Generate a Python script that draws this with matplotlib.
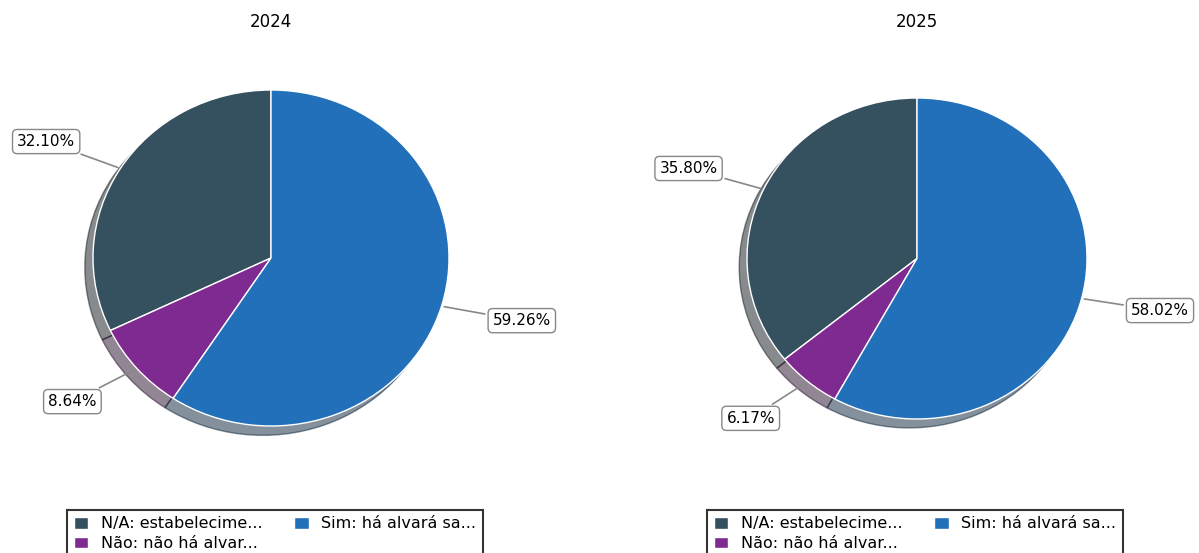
import numpy as np
import matplotlib
matplotlib.use("Agg")
import matplotlib.pyplot as plt

plt.rcParams["font.family"] = ["DejaVu Sans"]

years = ["2024", "2025"]
labels = ["N/A: estabelecime...", "Não: não há alvar...", "Sim: há alvará sa..."]
values_2024 = [32.10, 8.64, 59.26]
values_2025 = [35.80, 6.17, 58.02]
colors = ["#35505e", "#7e2a90", "#2170b9"]

W, H = 1199, 553
fig = plt.figure(figsize=(W / 100, H / 100), dpi=100)

# axes placement in pixels: (center_x, center_y_from_top, rx, ry)
geoms = [(271, 258, 178, 168), (917, 258.5, 170, 160.5)]
legend_centers = [275, 915]

for year, vals, (cx, cy, rx, ry), lcx in zip(years, [values_2024, values_2025], geoms, legend_centers):
    aw, ah = rx * 2.5, ry * 2.5
    ax = fig.add_axes([(cx - aw / 2) / W, 1 - (cy + ah / 2) / H, aw / W, ah / H])
    wedges, _ = ax.pie(vals, colors=colors, startangle=90,
                       shadow=dict(ox=-0.033, oy=-0.04),
                       wedgeprops=dict(edgecolor="white", linewidth=1))
    ax.set_aspect("auto")
    ax.set_xlim(-1.25, 1.25)
    ax.set_ylim(-1.25, 1.25)
    for w, v in zip(wedges, vals):
        ang = np.deg2rad((w.theta1 + w.theta2) / 2)
        x, y = np.cos(ang), np.sin(ang)
        ha = "left" if x > 0 else "right"
        ax.annotate(f"{v:.2f}%", xy=(x, y), xytext=(1.3 * x, 1.3 * y),
                    ha=ha, va="center", fontsize=11,
                    bbox=dict(boxstyle="round,pad=0.3", fc="white", ec="#888888", lw=1),
                    arrowprops=dict(arrowstyle="-", color="#888888", lw=1.2))
    fig.text(cx / W, 1 - 22 / H, year, ha="center", va="center", fontsize=12)
    leg = ax.legend(wedges, labels, ncol=2, loc="upper center",
                    bbox_to_anchor=(lcx / W, 1 - 510 / H), bbox_transform=fig.transFigure,
                    fontsize=11.5, frameon=True, fancybox=False, handlelength=0.9,
                    handleheight=0.75, handletextpad=0.8, columnspacing=2.0,
                    borderpad=0.4, labelspacing=0.3, borderaxespad=0)
    leg.get_frame().set_edgecolor("black")
    leg.get_frame().set_linewidth(1.5)

fig.savefig("out.png", dpi=100)
